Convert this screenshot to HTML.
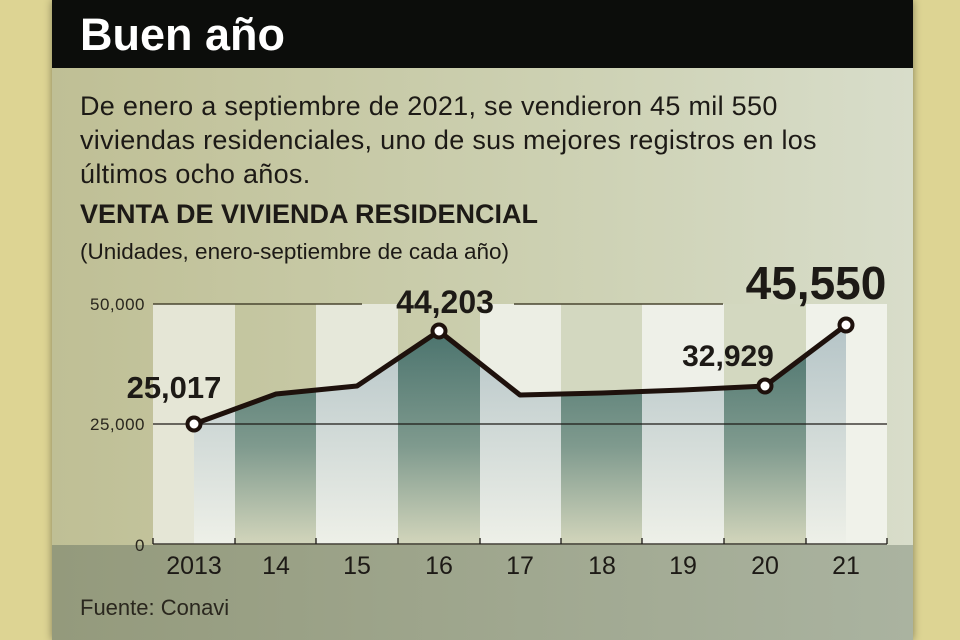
<!DOCTYPE html>
<html><head><meta charset="utf-8"><style>
body{margin:0;width:960px;height:640px;overflow:hidden;background:#ddd493;font-family:"Liberation Sans",sans-serif}
#p{position:absolute;left:52px;top:0;width:861px;height:640px;background:linear-gradient(90deg,#bfbf95,#cdd1b3 60%,#d8ddca);box-shadow:0 0 8px rgba(0,0,0,.4)}
#bar{position:absolute;left:0;top:0;width:861px;height:68px;background:#0c0d0b}
.t{position:absolute;color:#1d1a16;white-space:nowrap}
</style></head><body>
<div id="p">
<div id="bar"></div>
<div style="position:absolute;left:0;top:545px;width:861px;height:95px;background:linear-gradient(90deg,#949a7c,#aab3a0)"></div>
</div>
<div class="t" style="left:80px;top:9px;font-size:45px;font-weight:bold;color:#fff">Buen año</div>
<div class="t" style="left:80px;top:89px;font-size:27px;line-height:34px;letter-spacing:0.3px">De enero a septiembre de 2021, se vendieron 45 mil 550<br>viviendas residenciales, uno de sus mejores registros en los<br>últimos ocho años.</div>
<div class="t" style="left:80px;top:199px;font-size:27px;font-weight:bold">VENTA DE VIVIENDA RESIDENCIAL</div>
<div class="t" style="left:80px;top:239px;font-size:22.5px">(Unidades, enero-septiembre de cada año)</div>
<svg style="position:absolute;left:0;top:0" width="960" height="640">
<defs>
<linearGradient id="lg" x1="0" y1="0" x2="0" y2="1"><stop offset="0" stop-color="#aebfc3"/><stop offset="1" stop-color="#eef0e8"/></linearGradient>
<linearGradient id="dg" x1="0" y1="0" x2="0" y2="1"><stop offset="0" stop-color="#3d6965"/><stop offset=".6" stop-color="#7f9a8e"/><stop offset="1" stop-color="#d2d5bb"/></linearGradient>
<clipPath id="ar"><polygon points="194,544 194,424 276,394 357,386 439,331 520,395 602,393 683,390 765,386 846,325 846,544"/></clipPath>
</defs>
<g>
<rect x="153" y="304" width="82" height="240" fill="#e5e6d6"/>
<rect x="316" y="304" width="82" height="240" fill="#e6e8da"/>
<rect x="480" y="304" width="81" height="240" fill="#eceee4"/>
<rect x="642" y="304" width="82" height="240" fill="#eef0e8"/>
<rect x="806" y="304" width="81" height="240" fill="#f0f2ea"/>
<rect x="561" y="304" width="81" height="240" fill="#d3d8c0"/>
<rect x="724" y="304" width="82" height="240" fill="#d3d8c0"/>
</g>
<g clip-path="url(#ar)">
<rect x="153" y="300" width="82" height="244" fill="url(#lg)"/>
<rect x="235" y="300" width="81" height="244" fill="url(#dg)"/>
<rect x="316" y="300" width="82" height="244" fill="url(#lg)"/>
<rect x="398" y="300" width="82" height="244" fill="url(#dg)"/>
<rect x="480" y="300" width="81" height="244" fill="url(#lg)"/>
<rect x="561" y="300" width="81" height="244" fill="url(#dg)"/>
<rect x="642" y="300" width="82" height="244" fill="url(#lg)"/>
<rect x="724" y="300" width="82" height="244" fill="url(#dg)"/>
<rect x="806" y="300" width="81" height="244" fill="url(#lg)"/>
</g>
<line x1="153" y1="304" x2="362" y2="304" stroke="#4a4630" stroke-width="1.5"/>
<line x1="514" y1="304" x2="723" y2="304" stroke="#4a4630" stroke-width="1.5"/>
<line x1="153" y1="424" x2="887" y2="424" stroke="#1d1a16" stroke-width="1.2"/>
<path d="M153 544H887M153 538V544M235 538V544M316 538V544M398 538V544M480 538V544M561 538V544M642 538V544M724 538V544M806 538V544M887 538V544" stroke="#1d1a16" stroke-width="1.3" fill="none"/>
<polyline points="194,424 276,394 357,386 439,331 520,395 602,393 683,390 765,386 846,325" fill="none" stroke="#1e110c" stroke-width="5" stroke-linejoin="round"/>
<g fill="#fff" stroke="#1e110c" stroke-width="4">
<circle cx="194" cy="424" r="6.5"/><circle cx="439" cy="331" r="6.5"/><circle cx="765" cy="386" r="6.5"/><circle cx="846" cy="325" r="6.5"/></g>
<g font-family="Liberation Sans,sans-serif" fill="#2a271e" font-size="17" text-anchor="end" letter-spacing="0.5">
<text x="145" y="310">50,000</text><text x="145" y="430">25,000</text><text x="145" y="551">0</text></g>
<g font-family="Liberation Sans,sans-serif" fill="#1d1a16" font-size="25" text-anchor="middle">
<text x="194" y="574">2013</text><text x="276" y="574">14</text><text x="357" y="574">15</text><text x="439" y="574">16</text><text x="520" y="574">17</text><text x="602" y="574">18</text><text x="683" y="574">19</text><text x="765" y="574">20</text><text x="846" y="574">21</text></g>
<g font-family="Liberation Sans,sans-serif" fill="#1d1a16" font-weight="bold" text-anchor="middle">
<text x="174" y="398" font-size="31">25,017</text>
<text x="445" y="313" font-size="32">44,203</text>
<text x="728" y="366" font-size="30">32,929</text>
<text x="816" y="299" font-size="46">45,550</text></g>
<text x="80" y="615" font-family="Liberation Sans,sans-serif" font-size="22" fill="#2a271e">Fuente: Conavi</text>
</svg>
</body></html>
